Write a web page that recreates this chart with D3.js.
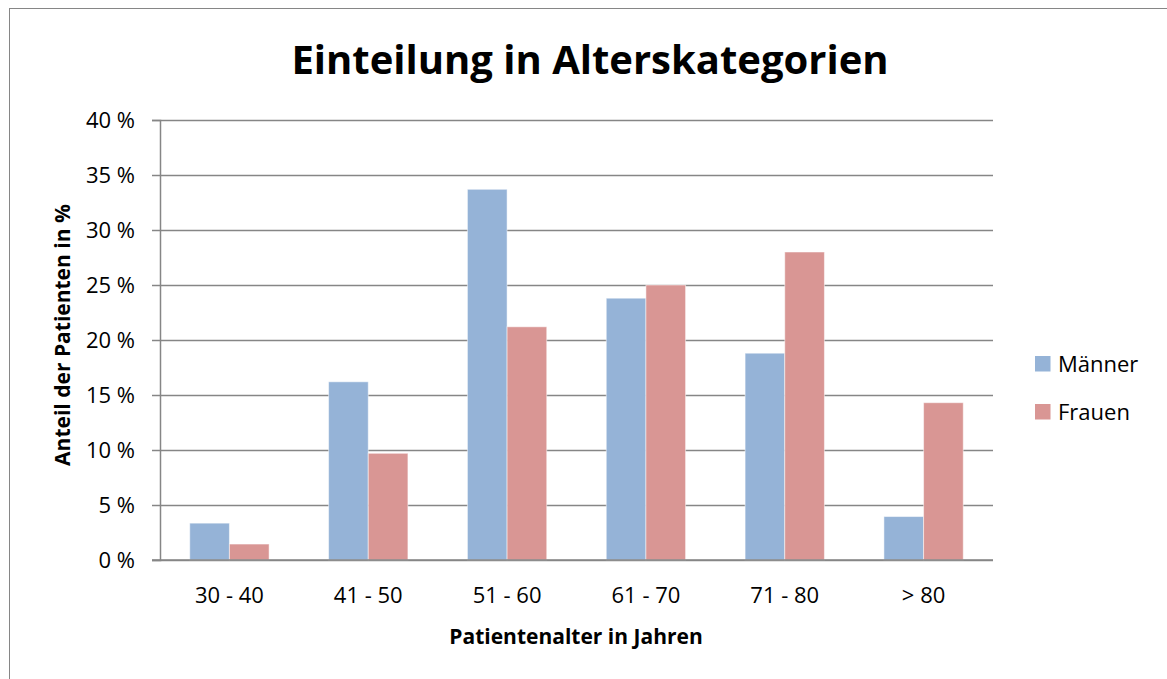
<!DOCTYPE html>
<html>
<head>
<meta charset="utf-8">
<script src="https://cdn.jsdelivr.net/npm/d3@7"></script>
<style>
  body { margin: 0; background: #fff; }
  svg { display: block; font-family: "Open Sans", sans-serif; }
</style>
</head>
<body>
<div id="chart"></div>
<script>
const width = 1167;
const height = 679;

// data
const categories = ['30 - 40', '41 - 50', '51 - 60', '61 - 70', '71 - 80', '> 80'];
const seriesNames = ['Männer', 'Frauen'];
const maenner = [3.35, 16.2, 33.7, 23.8, 18.8, 3.95];
const frauen = [1.45, 9.7, 21.2, 25.0, 28.0, 14.3];
const yTicks = [0, 5, 10, 15, 20, 25, 30, 35, 40];
const colors = ['#95B3D7', '#D99694'];

const margin = { top: 120, right: 174, bottom: 119, left: 160 };
const plot = {
  left: margin.left,
  right: width - margin.right,
  top: margin.top,
  bottom: height - margin.bottom,
};

const svg = d3.select('#chart')
  .append('svg')
  .attr('width', width)
  .attr('height', height);

// outer frame
svg.append('rect')
  .attr('x', 9.5).attr('y', 8.5)
  .attr('width', width).attr('height', height)
  .attr('fill', 'none')
  .attr('stroke', '#868686')
  .attr('stroke-width', 1);

const x0 = d3.scaleBand()
  .domain(categories)
  .range([plot.left, plot.right])
  .paddingInner(1.5 / 3.5)
  .paddingOuter(0.75 / 3.5);

const x1 = d3.scaleBand()
  .domain(seriesNames)
  .range([0, x0.bandwidth()]);

const y = d3.scaleLinear()
  .domain([0, 40])
  .range([plot.bottom, plot.top]);

// gridlines
svg.append('g')
  .attr('class', 'grid')
  .attr('transform', `translate(${plot.left},0)`)
  .call(d3.axisLeft(y).tickValues(yTicks).tickSize(-(plot.right - plot.left)).tickFormat(''))
  .call(g => g.select('.domain').remove())
  .call(g => g.selectAll('line').attr('stroke', '#868686').attr('stroke-width', 1.5));

const bars = seriesNames.map((name, i) => ({
  name,
  values: (i === 0 ? maenner : frauen),
}));

svg.append('g')
  .selectAll('g')
  .data(bars)
  .join('g')
  .attr('fill', (d, i) => colors[i])
  .selectAll('rect')
  .data(d => d.values.map((v, j) => ({ name: d.name, cat: categories[j], v })))
  .join('rect')
  .attr('x', d => x0(d.cat) + x1(d.name))
  .attr('y', d => y(d.v))
  .attr('width', x1.bandwidth())
  .attr('height', d => y(0) - y(d.v))
  .attr('stroke', '#fff')
  .attr('stroke-opacity', 0.5)
  .attr('stroke-width', 1);

// y axis
const yAxis = d3.axisLeft(y)
  .tickValues(yTicks)
  .tickSize(8)
  .tickFormat(d => d + ' %');

svg.append('g')
  .attr('transform', `translate(${plot.left},0)`)
  .call(yAxis)
  .call(g => g.select('.domain').attr('stroke', '#868686').attr('stroke-width', 1.5))
  .call(g => g.selectAll('.tick line').attr('stroke', '#868686').attr('stroke-width', 1.5))
  .call(g => g.selectAll('.tick text')
    .attr('x', -25)
    .attr('fill', '#000')
    .style('font-size', '22px')
    .style('font-family', '"Open Sans", sans-serif'));

// x axis
svg.append('g')
  .attr('transform', `translate(0,${plot.bottom})`)
  .call(d3.axisBottom(x0).tickSize(0).tickPadding(27))
  .call(g => g.select('.domain').attr('stroke', '#868686').attr('stroke-width', 1.5)
    .attr('d', `M${plot.left - 8},0H${plot.right}`))
  .call(g => g.selectAll('.tick text')
    .attr('fill', '#000')
    .style('font-size', '22px')
    .style('font-family', '"Open Sans", sans-serif'));

// title
svg.append('text')
  .attr('x', 590)
  .attr('y', 74)
  .attr('text-anchor', 'middle')
  .style('font-size', '40px')
  .style('font-weight', 'bold')
  .text('Einteilung in Alterskategorien');

// axis titles
svg.append('text')
  .attr('x', 576)
  .attr('y', 644)
  .attr('text-anchor', 'middle')
  .style('font-size', '21px')
  .style('font-weight', 'bold')
  .text('Patientenalter in Jahren');

svg.append('text')
  .attr('transform', 'translate(70,335) rotate(-90)')
  .attr('text-anchor', 'middle')
  .style('font-size', '21px')
  .style('font-weight', 'bold')
  .text('Anteil der Patienten in %');

// legend
const legend = svg.append('g')
  .selectAll('g')
  .data(seriesNames)
  .join('g')
  .attr('transform', (d, i) => `translate(1035,${356 + i * 48})`);

legend.append('rect')
  .attr('width', 15.5)
  .attr('height', 15.5)
  .attr('fill', (d, i) => colors[i]);

legend.append('text')
  .attr('x', 23)
  .attr('y', 16)
  .style('font-size', '22px')
  .text(d => d);
</script>
</body>
</html>
